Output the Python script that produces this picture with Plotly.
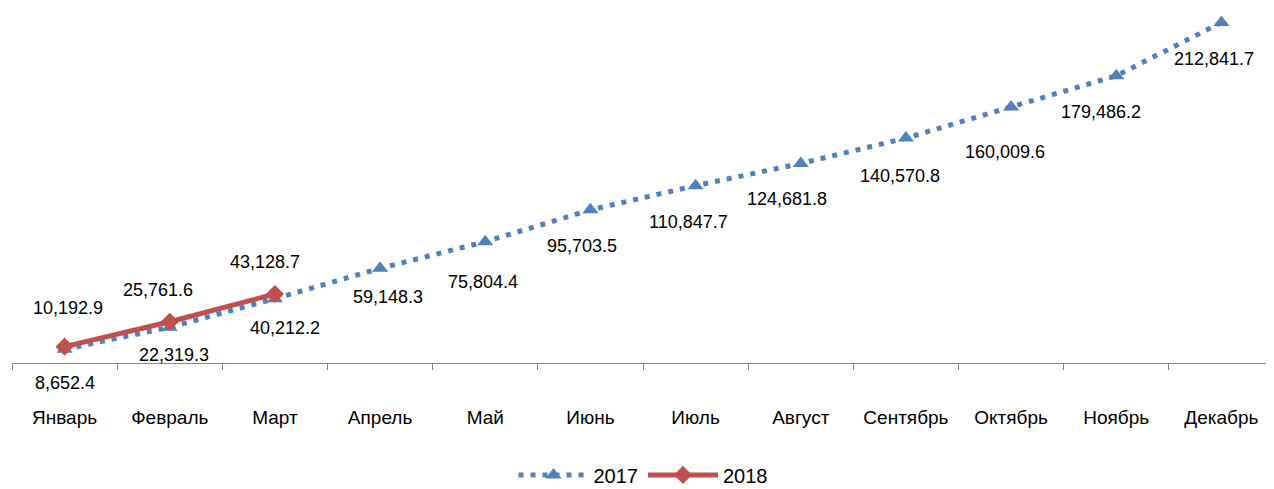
import plotly.graph_objects as go

months = ['Январь', 'Февраль', 'Март', 'Апрель', 'Май', 'Июнь',
          'Июль', 'Август', 'Сентябрь', 'Октябрь', 'Ноябрь', 'Декабрь']
values_2017 = [8652.4, 22319.3, 40212.2, 59148.3, 75804.4, 95703.5,
               110847.7, 124681.8, 140570.8, 160009.6, 179486.2, 212841.7]
values_2018 = [10192.9, 25761.6, 43128.7]

# label offsets in pixels (dx, dy up)
offsets_2017 = [(0, -34), (4, -28), (10, -29), (8, -29), (-2, -40), (-8, -36),
                (-7, -36), (-14, -35), (-6, -38), (-6, -45), (-15, -36), (-7, -37)]
offsets_2018 = [(3, 39), (-12, 32), (-10, 32)]

blue = '#4F81BD'
red = '#C0504D'
font_family = 'Liberation Sans, Arial, sans-serif'

def fmt(v):
    return f'{v:,.1f}'

fig = go.Figure()
fig.add_trace(go.Scatter(
    x=months, y=values_2017, name='2017', mode='lines+markers',
    line=dict(color=blue, width=5, dash='5px,7px'),
    marker=dict(symbol='triangle-up', size=14, color=blue),
))
fig.add_trace(go.Scatter(
    x=months[:len(values_2018)], y=values_2018, name='2018', mode='lines+markers',
    line=dict(color=red, width=5),
    marker=dict(symbol='diamond', size=14, color=red),
))

annotations = []
for m, v, (dx, dy) in zip(months, values_2017, offsets_2017):
    annotations.append(dict(x=m, y=v, text=fmt(v), showarrow=False,
                            xshift=dx, yshift=dy, font=dict(size=18, color='black')))
for m, v, (dx, dy) in zip(months, values_2018, offsets_2018):
    annotations.append(dict(x=m, y=v, text=fmt(v), showarrow=False,
                            xshift=dx, yshift=dy, font=dict(size=18, color='black')))

# the page body adds an 8px margin, so the figure is 8px smaller each way
fig.update_layout(
    width=1266, height=481,
    margin=dict(l=4, r=0, t=3, b=126, autoexpand=False),
    paper_bgcolor='white', plot_bgcolor='white',
    font=dict(family=font_family, size=18, color='black'),
    annotations=annotations,
    showlegend=True,
    legend=dict(orientation='h', x=0.5, xanchor='center',
                y=-0.318, yanchor='middle',
                font=dict(size=20), itemwidth=70),
    xaxis=dict(
        type='category', range=[-0.5, 11.5], automargin=False,
        showgrid=False, zeroline=False,
        showline=True, linecolor='#888888', linewidth=1,
        ticks='outside', tickson='boundaries', ticklen=6, tickcolor='#888888',
        ticklabelstandoff=37, tickfont=dict(size=19),
    ),
    yaxis=dict(range=[0, 220000], visible=False),
)

fig.write_html('out.html')
